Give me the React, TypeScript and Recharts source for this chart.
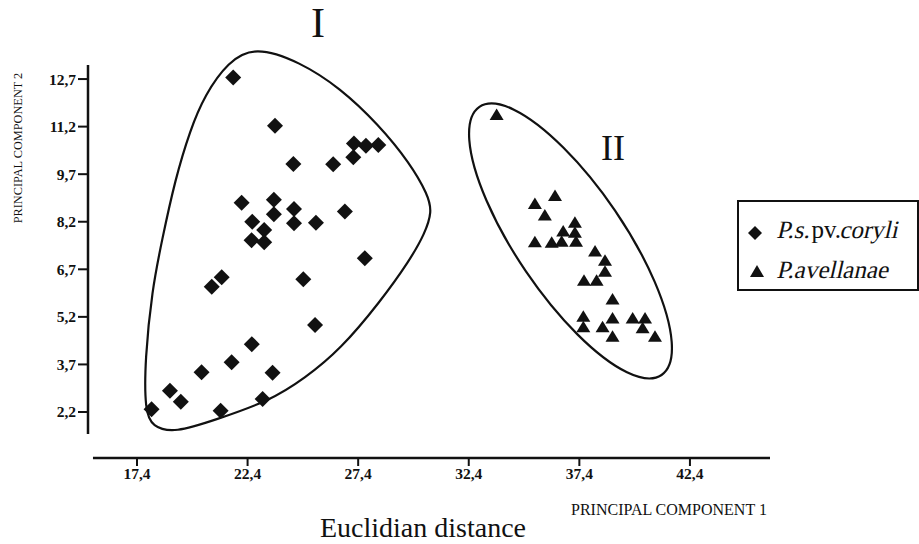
import React from 'react';
import { ScatterChart, Scatter, XAxis, YAxis, ReferenceLine } from 'recharts';

// P.s. pv. coryli (diamonds)
const coryliX = [21.75, 23.64, 27.21, 27.75, 28.31, 27.18, 24.47, 26.27, 22.13, 23.59, 23.59, 24.5, 24.5, 22.61, 23.15, 22.58, 23.15, 25.49, 26.8, 27.7, 21.23, 20.78, 24.92, 25.45, 22.59, 21.68, 20.32, 23.53, 18.89, 19.38, 18.06, 21.18, 23.08];
const coryliY = [12.75, 11.23, 10.67, 10.6, 10.62, 10.23, 10.02, 10.01, 8.8, 8.89, 8.44, 8.6, 8.15, 8.2, 7.94, 7.62, 7.55, 8.17, 8.52, 7.05, 6.45, 6.15, 6.39, 4.94, 4.34, 3.77, 3.45, 3.44, 2.87, 2.52, 2.29, 2.24, 2.61];

// P. avellanae (triangles)
const avellX = [33.66, 36.3, 35.39, 35.84, 37.2, 36.67, 37.2, 35.39, 36.15, 36.6, 37.25, 38.11, 38.56, 38.56, 37.61, 38.18, 38.9, 37.58, 37.58, 38.9, 38.45, 38.9, 39.81, 40.37, 40.26, 40.82];
const avellY = [11.57, 9.01, 8.76, 8.4, 8.17, 7.89, 7.85, 7.55, 7.54, 7.57, 7.57, 7.26, 6.97, 6.62, 6.34, 6.34, 5.75, 5.2, 4.87, 5.15, 4.87, 4.57, 5.15, 5.15, 4.84, 4.57];

// cluster outlines (control points, data coords)
const hullIX = [22.73, 24.77, 26.58, 28.3, 29.74, 30.56, 30.74, 30.42, 29.74, 28.39, 26.58, 25.0, 23.41, 20.93, 19.12, 18.08, 17.76, 17.76, 18.08, 18.53, 19.12, 19.8, 20.47, 21.51];
const hullIY = [13.74, 13.24, 12.42, 11.28, 10.05, 9.04, 8.51, 7.84, 6.99, 5.67, 4.16, 3.27, 2.55, 1.95, 1.54, 1.73, 2.26, 3.84, 6.05, 7.62, 9.52, 11.09, 12.2, 13.24];
const hullIIX = [41.31, 41.79, 40.98, 39.11, 36.67, 34.32, 32.69, 32.21, 33.02, 34.89, 37.33, 39.67];
const hullIIY = [3.17, 4.26, 6.25, 8.6, 10.67, 11.93, 12.02, 10.92, 8.94, 6.59, 4.51, 3.26];

const xTicks = [17.4, 22.4, 27.4, 32.4, 37.4, 42.4];
const yTicks = [2.2, 3.7, 5.2, 6.7, 8.2, 9.7, 11.2, 12.7];

const X_DOMAIN: [number, number] = [15.185, 46.02];
const Y_DOMAIN: [number, number] = [0.749, 14.247];
const Y_AXIS_RANGE = [1.506, 13.141];
const X_AXIS_START = 15.41;

const zip = (xs: number[], ys: number[]) => xs.map((x, i) => ({ x, y: ys[i] }));
const coryli = zip(coryliX, coryliY);
const avell = zip(avellX, avellY);
const hullI = zip(hullIX, hullIY);
const hullII = zip(hullIIX, hullIIY);

const FONT = '"Liberation Serif", "Times New Roman", serif';
const INK = '#111';

const Diamond = (props: any) => {
  const { cx, cy } = props;
  const r = 8;
  return <polygon points={`${cx},${cy - r} ${cx + r},${cy} ${cx},${cy + r} ${cx - r},${cy}`} fill={INK} />;
};
const Triangle = (props: any) => {
  const { cx, cy } = props;
  return <polygon points={`${cx},${cy - 6.5} ${cx + 7},${cy + 5} ${cx - 7},${cy + 5}`} fill={INK} />;
};
const NoShape = () => <g />;

const fmt = (v: number) => v.toFixed(1).replace('.', ',');

const It = ({ children }: { children: React.ReactNode }) => (
  <span style={{ display: 'inline-block', transform: 'skewX(-13deg)', fontFamily: FONT, fontStyle: 'normal' }}>{children}</span>
);

export default function App() {
  return (
    <div style={{ position: 'absolute', left: 0, top: 0, width: 919, height: 544, background: '#fff', fontFamily: FONT }}>
      <ScatterChart width={919} height={544} margin={{ top: 30, right: 149, left: 0, bottom: 0 }}>
        <XAxis
          type="number"
          dataKey="x"
          domain={X_DOMAIN}
          ticks={xTicks}
          tickFormatter={fmt}
          axisLine={false}
          tickLine={{ stroke: INK, strokeWidth: 2 }}
          tickSize={8}
          height={86}
          tick={{ fill: INK, fontSize: 15.5, fontFamily: FONT, fontWeight: 'bold' }}
          allowDataOverflow
        />
        <YAxis
          type="number"
          dataKey="y"
          domain={Y_DOMAIN}
          ticks={yTicks}
          tickFormatter={fmt}
          axisLine={false}
          tickLine={{ stroke: INK, strokeWidth: 2 }}
          tickSize={10}
          width={88}
          tick={{ fill: INK, fontSize: 15.5, fontFamily: FONT, fontWeight: 'bold' }}
          allowDataOverflow
        />
        <ReferenceLine
          segment={[{ x: X_DOMAIN[0], y: Y_AXIS_RANGE[0] }, { x: X_DOMAIN[0], y: Y_AXIS_RANGE[1] }]}
          stroke={INK}
          strokeWidth={2.5}
          ifOverflow="visible"
        />
        <ReferenceLine
          segment={[{ x: X_AXIS_START, y: Y_DOMAIN[0] }, { x: X_DOMAIN[1], y: Y_DOMAIN[0] }]}
          stroke={INK}
          strokeWidth={2.5}
          ifOverflow="visible"
        />
        <Scatter
          data={hullI}
          line={{ stroke: INK, strokeWidth: 2.2, fill: 'none' }}
          lineType="joint"
          lineJointType="basisClosed"
          shape={NoShape}
          isAnimationActive={false}
        />
        <Scatter
          data={hullII}
          line={{ stroke: INK, strokeWidth: 2.2, fill: 'none' }}
          lineType="joint"
          lineJointType="basisClosed"
          shape={NoShape}
          isAnimationActive={false}
        />
        <Scatter data={coryli} shape={Diamond} isAnimationActive={false} />
        <Scatter data={avell} shape={Triangle} isAnimationActive={false} />
      </ScatterChart>

      <div style={{ position: 'absolute', left: 298, top: 0, width: 40, textAlign: 'center', fontSize: 42, lineHeight: '46px', color: INK }}>I</div>
      <div style={{ position: 'absolute', left: 588, top: 128, width: 50, textAlign: 'center', fontSize: 36, lineHeight: '40px', color: INK }}>II</div>

      <div
        style={{
          position: 'absolute',
          left: 18 - 100,
          top: 148 - 8,
          width: 200,
          height: 16,
          lineHeight: '16px',
          textAlign: 'center',
          fontSize: 12.3,
          color: INK,
          transform: 'rotate(-90deg)',
          transformOrigin: '100px 8px',
          whiteSpace: 'nowrap',
        }}
      >
        PRINCIPAL COMPONENT 2
      </div>
      <div style={{ position: 'absolute', left: 571, top: 501, fontSize: 16, lineHeight: '18px', color: INK, whiteSpace: 'nowrap' }}>
        PRINCIPAL COMPONENT 1
      </div>
      <div style={{ position: 'absolute', left: 320, top: 512, fontSize: 28, lineHeight: '32px', color: INK, whiteSpace: 'nowrap' }}>
        Euclidian distance
      </div>

      <div
        style={{
          position: 'absolute',
          left: 737,
          top: 200,
          width: 178,
          height: 87,
          border: `2px solid ${INK}`,
          color: INK,
          fontSize: 25,
        }}
      >
        <svg width={18} height={18} style={{ position: 'absolute', left: 7, top: 22 }}>
          <polygon points="9,2 16,9 9,16 2,9" fill={INK} />
        </svg>
        <div style={{ position: 'absolute', left: 39, top: 14, lineHeight: '28px', whiteSpace: 'nowrap' }}>
          <It>P.s.</It>pv.<It>coryli</It>
        </div>
        <svg width={18} height={18} style={{ position: 'absolute', left: 9, top: 61 }}>
          <polygon points="9,2 16,14 2,14" fill={INK} />
        </svg>
        <div style={{ position: 'absolute', left: 39, top: 54, lineHeight: '28px', whiteSpace: 'nowrap' }}>
          <It>P.avellanae</It>
        </div>
      </div>
    </div>
  );
}
